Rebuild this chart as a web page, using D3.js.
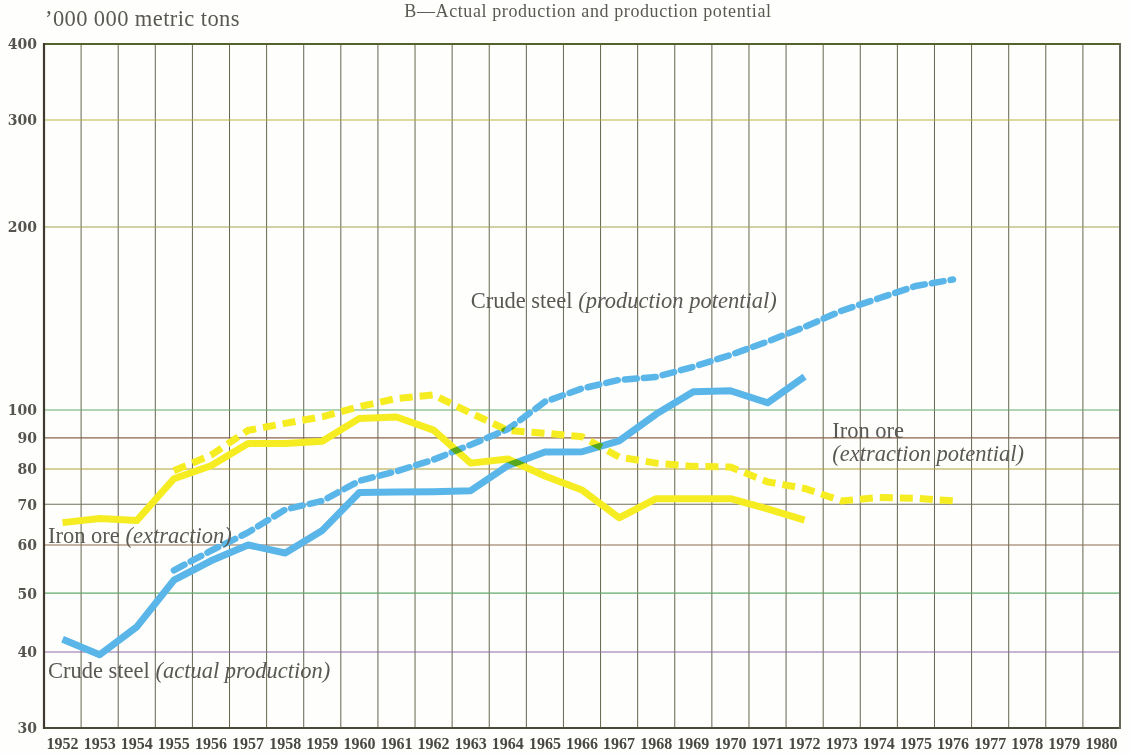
<!DOCTYPE html>
<html>
<head>
<meta charset="utf-8">
<script src="https://cdn.jsdelivr.net/npm/d3@7"></script>
<style>
  html, body { margin: 0; padding: 0; background: #fefefd; }
  svg { display: block; }
  .serif { font-family: "Liberation Serif", "DejaVu Serif", serif; fill: #5a5852; }
  .series { mix-blend-mode: multiply; fill: none; }
</style>
</head>
<body>
<svg id="chart" width="1130" height="754"></svg>
<script>
// Year axis (one band per year)
const years = d3.range(1952, 1981);

// Crude steel, actual production, 1952-1972 ('000 000 metric tons)
const steelActualYears = d3.range(1952, 1973);
const steelActual = [42.0, 39.6, 44.0, 52.5, 56.5, 60.0, 58.2, 63.4, 73.2, 73.3,
                     73.4, 73.7, 81.0, 85.3, 85.4, 89.0, 98.5, 107.2, 107.6, 102.8, 113.5];

// Crude steel, production potential, 1955-1976
const steelPotentialYears = d3.range(1955, 1977);
const steelPotential = [54.5, 58.7, 62.9, 68.6, 70.9, 76.5, 79.3, 82.9, 87.7, 93.0,
                        103.2, 108.5, 112.1, 113.4, 117.8, 123.2, 129.6, 137.0, 145.7, 152.7, 160.0, 164.0];

// Iron ore, extraction, 1952-1972
const oreActualYears = d3.range(1952, 1973);
const oreActual = [65.3, 66.3, 65.8, 77.1, 81.0, 88.1, 88.1, 88.9, 96.9, 97.4,
                   92.7, 81.8, 83.1, 77.9, 73.9, 66.5, 71.5, 71.5, 71.5, 68.8, 65.9];

// Iron ore, extraction potential, 1955-1976
const orePotentialYears = d3.range(1955, 1977);
const orePotential = [79.5, 84.3, 92.6, 95.1, 97.5, 101.3, 104.5, 105.9, 98.9, 92.6,
                      91.6, 90.4, 83.7, 81.8, 80.8, 80.6, 76.2, 74.3, 70.9, 71.8, 71.6, 70.9];

// Value axis ticks
const yTicks = [30, 40, 50, 60, 70, 80, 90, 100, 200, 300, 400];

const svg = d3.select("#chart");
const margin = { left: 44, right: 10, top: 44, bottom: 26 };
const W = 1130, H = 754;

const x = d3.scaleBand().domain(years).range([margin.left, W - margin.right]).padding(0);
const y = d3.scaleLog().domain([30, 400]).range([H - margin.bottom, margin.top]);
const cx = yr => x(yr) + x.bandwidth() / 2;

// colour of each printed horizontal rule
const ruleColour = d3.scaleOrdinal()
  .domain(yTicks)
  .range(["#4b4a38", "#8b6aa8", "#5fa868", "#8c6c52", "#72705a", "#b2a23a",
          "#8c644c", "#62ab6a", "#a4a452", "#b3b444", "#56622c"]);

const grid = svg.append("g");

// vertical rules at band edges
grid.selectAll("line.v")
  .data(years.slice(1))
  .join("line")
  .attr("x1", d => x(d)).attr("x2", d => x(d))
  .attr("y1", y(400)).attr("y2", y(30))
  .attr("stroke", "#66654f").attr("stroke-width", 1);

// horizontal rules
grid.selectAll("line.h")
  .data(yTicks)
  .join("line")
  .attr("x1", margin.left).attr("x2", W - margin.right)
  .attr("y1", d => y(d)).attr("y2", d => y(d))
  .attr("stroke", d => ruleColour(d))
  .attr("stroke-width", d => (d === 30 || d === 400) ? 2 : 1.1);

// frame sides
grid.append("line")
  .attr("x1", margin.left).attr("x2", margin.left)
  .attr("y1", y(400) - 1).attr("y2", y(30) + 1)
  .attr("stroke", "#3e3a30").attr("stroke-width", 2.2);
grid.append("line")
  .attr("x1", W - margin.right).attr("x2", W - margin.right)
  .attr("y1", y(400) - 1).attr("y2", y(30) + 1)
  .attr("stroke", "#66665a").attr("stroke-width", 2);

// y axis labels
const yAxis = d3.axisLeft(y).tickValues(yTicks).tickFormat(d3.format("d")).tickSize(0).tickPadding(7);
const gy = svg.append("g").attr("transform", `translate(${margin.left},0)`).call(yAxis);
gy.select(".domain").remove();
gy.selectAll("text")
  .attr("font-family", "'DejaVu Serif', serif")
  .attr("font-weight", "bold")
  .attr("font-size", 14)
  .attr("fill", "#56544e")
  .attr("dy", "0.35em");

// x axis labels
const xAxis = d3.axisBottom(x).tickSize(0).tickPadding(10);
const gx = svg.append("g").attr("transform", `translate(0,${y(30)})`).call(xAxis);
gx.select(".domain").remove();
gx.selectAll("text")
  .attr("font-family", "'Liberation Serif', serif")
  .attr("font-weight", "bold")
  .attr("font-size", 16)
  .attr("fill", "#4a4842");

// series
const line = d3.line().x(d => cx(d[0])).y(d => y(d[1])).curve(d3.curveLinear);
const zip = (a, b) => a.map((v, i) => [v, b[i]]);

const seriesG = svg.append("g").style("isolation", "isolate");
const yellow = "#f6ec22", blue = "#5ab6e8";

seriesG.append("path").attr("class", "series")
  .attr("d", line(zip(oreActualYears, oreActual)))
  .attr("stroke", yellow).attr("stroke-width", 7).attr("stroke-linejoin", "round");
seriesG.append("path").attr("class", "series")
  .attr("d", line(zip(orePotentialYears, orePotential)))
  .attr("stroke", yellow).attr("stroke-width", 7)
  .attr("stroke-dasharray", "13 7").attr("stroke-linecap", "butt");
seriesG.append("path").attr("class", "series")
  .attr("d", line(zip(steelActualYears, steelActual)))
  .attr("stroke", blue).attr("stroke-width", 7).attr("stroke-linejoin", "round");
seriesG.append("path").attr("class", "series")
  .attr("d", line(zip(steelPotentialYears, steelPotential)))
  .attr("stroke", blue).attr("stroke-width", 6.5)
  .attr("stroke-dasharray", "12 7").attr("stroke-linecap", "round");

// titles and series labels
const txt = svg.append("g").attr("class", "serif");

txt.append("text").attr("x", 588).attr("y", 17).attr("text-anchor", "middle")
  .attr("font-size", 18).attr("letter-spacing", 0.6)
  .text("B\u2014Actual production and production potential");

txt.append("text").attr("x", 45).attr("y", 26).attr("font-size", 22.5).attr("letter-spacing", 0.4)
  .text("\u2019000 000 metric tons");

function label(xp, yp, plain, italic) {
  const t = txt.append("text").attr("x", xp).attr("y", yp).attr("font-size", 22.5);
  if (plain) t.append("tspan").text(plain);
  if (italic) t.append("tspan").attr("font-style", "italic").text(italic);
  return t;
}
label(x(1963) + x.bandwidth() / 2, y(147), "Crude steel ", "(production potential)");
label(x(1973) + 9, y(90.1), "Iron ore", null);
label(x(1973) + 9, y(82.5), null, "(extraction potential)");
label(x(1952) + 4, y(60.4), "Iron ore ", "(extraction)");
label(x(1952) + 4, y(36.3), "Crude steel ", "(actual production)");
</script>
</body>
</html>
